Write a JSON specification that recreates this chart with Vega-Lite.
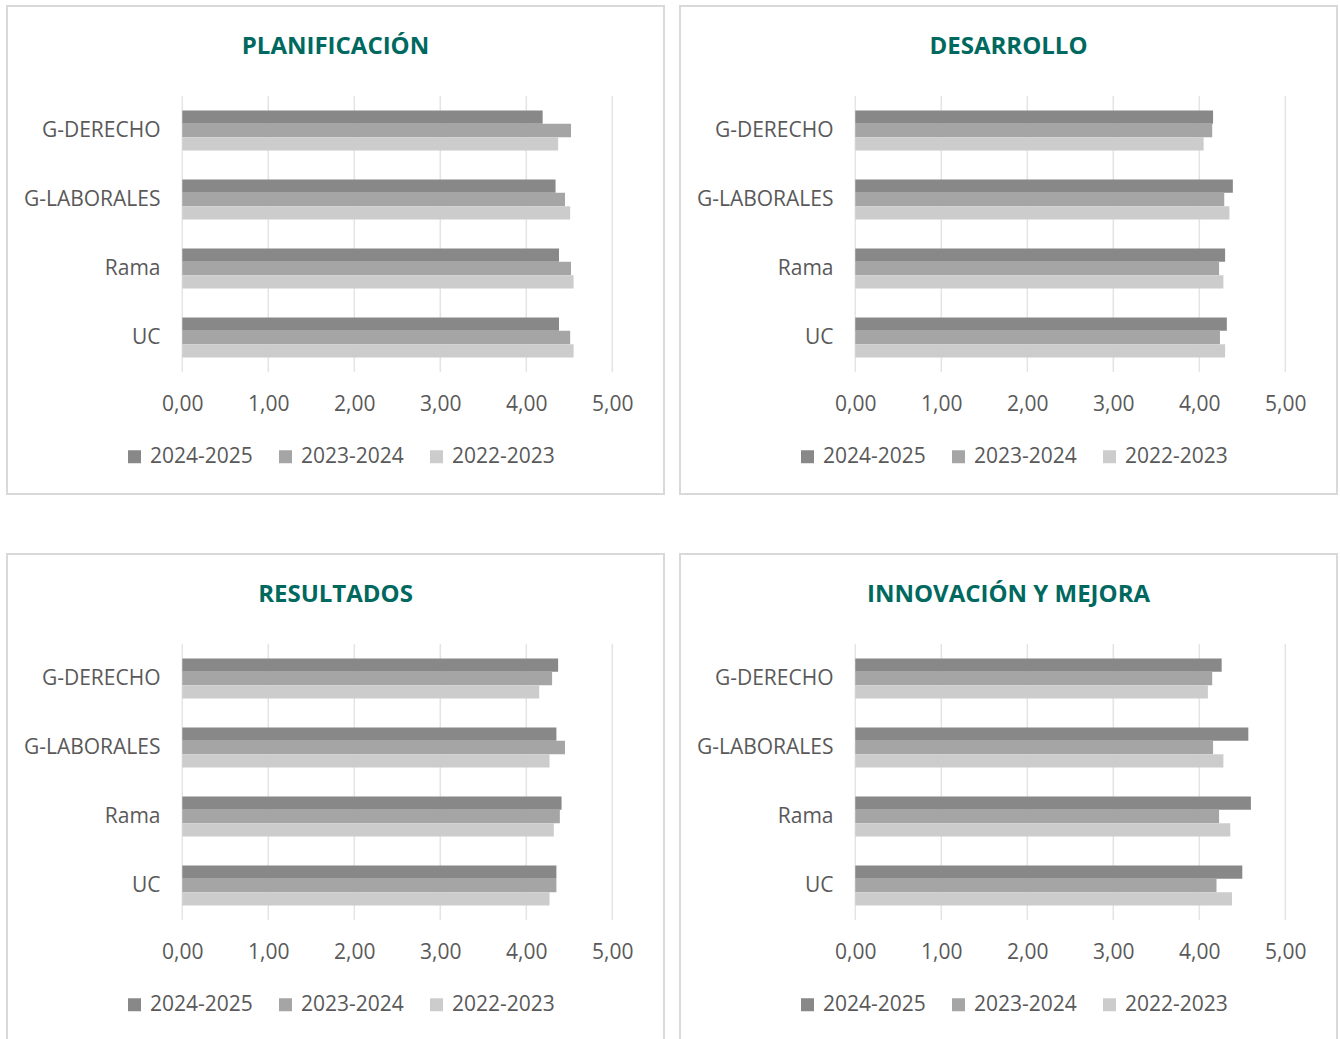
{
  "$schema": "https://vega.github.io/schema/vega-lite/v6.json",
  "padding": {"left": 6, "top": 5, "right": 0, "bottom": 0},
  "autosize": {"type": "pad"},
  "background": "white",
  "datasets": {
    "grid": [
      {"cat": "G-DERECHO", "value": 0}, {"cat": "G-DERECHO", "value": 1}, {"cat": "G-DERECHO", "value": 2}, {"cat": "G-DERECHO", "value": 3}, {"cat": "G-DERECHO", "value": 4}, {"cat": "G-DERECHO", "value": 5},
      {"cat": "G-LABORALES", "value": 0}, {"cat": "G-LABORALES", "value": 1}, {"cat": "G-LABORALES", "value": 2}, {"cat": "G-LABORALES", "value": 3}, {"cat": "G-LABORALES", "value": 4}, {"cat": "G-LABORALES", "value": 5},
      {"cat": "Rama", "value": 0}, {"cat": "Rama", "value": 1}, {"cat": "Rama", "value": 2}, {"cat": "Rama", "value": 3}, {"cat": "Rama", "value": 4}, {"cat": "Rama", "value": 5},
      {"cat": "UC", "value": 0}, {"cat": "UC", "value": 1}, {"cat": "UC", "value": 2}, {"cat": "UC", "value": 3}, {"cat": "UC", "value": 4}, {"cat": "UC", "value": 5}
    ],
    "d": [
      {"panel": "PLANIFICACIÓN", "cat": "G-DERECHO", "year": "2024-2025", "value": 4.19},
      {"panel": "PLANIFICACIÓN", "cat": "G-DERECHO", "year": "2023-2024", "value": 4.52},
      {"panel": "PLANIFICACIÓN", "cat": "G-DERECHO", "year": "2022-2023", "value": 4.37},
      {"panel": "PLANIFICACIÓN", "cat": "G-LABORALES", "year": "2024-2025", "value": 4.34},
      {"panel": "PLANIFICACIÓN", "cat": "G-LABORALES", "year": "2023-2024", "value": 4.45},
      {"panel": "PLANIFICACIÓN", "cat": "G-LABORALES", "year": "2022-2023", "value": 4.51},
      {"panel": "PLANIFICACIÓN", "cat": "Rama", "year": "2024-2025", "value": 4.38},
      {"panel": "PLANIFICACIÓN", "cat": "Rama", "year": "2023-2024", "value": 4.52},
      {"panel": "PLANIFICACIÓN", "cat": "Rama", "year": "2022-2023", "value": 4.55},
      {"panel": "PLANIFICACIÓN", "cat": "UC", "year": "2024-2025", "value": 4.38},
      {"panel": "PLANIFICACIÓN", "cat": "UC", "year": "2023-2024", "value": 4.51},
      {"panel": "PLANIFICACIÓN", "cat": "UC", "year": "2022-2023", "value": 4.55},
      {"panel": "DESARROLLO", "cat": "G-DERECHO", "year": "2024-2025", "value": 4.16},
      {"panel": "DESARROLLO", "cat": "G-DERECHO", "year": "2023-2024", "value": 4.15},
      {"panel": "DESARROLLO", "cat": "G-DERECHO", "year": "2022-2023", "value": 4.05},
      {"panel": "DESARROLLO", "cat": "G-LABORALES", "year": "2024-2025", "value": 4.39},
      {"panel": "DESARROLLO", "cat": "G-LABORALES", "year": "2023-2024", "value": 4.29},
      {"panel": "DESARROLLO", "cat": "G-LABORALES", "year": "2022-2023", "value": 4.35},
      {"panel": "DESARROLLO", "cat": "Rama", "year": "2024-2025", "value": 4.30},
      {"panel": "DESARROLLO", "cat": "Rama", "year": "2023-2024", "value": 4.23},
      {"panel": "DESARROLLO", "cat": "Rama", "year": "2022-2023", "value": 4.28},
      {"panel": "DESARROLLO", "cat": "UC", "year": "2024-2025", "value": 4.32},
      {"panel": "DESARROLLO", "cat": "UC", "year": "2023-2024", "value": 4.24},
      {"panel": "DESARROLLO", "cat": "UC", "year": "2022-2023", "value": 4.30},
      {"panel": "RESULTADOS", "cat": "G-DERECHO", "year": "2024-2025", "value": 4.37},
      {"panel": "RESULTADOS", "cat": "G-DERECHO", "year": "2023-2024", "value": 4.30},
      {"panel": "RESULTADOS", "cat": "G-DERECHO", "year": "2022-2023", "value": 4.15},
      {"panel": "RESULTADOS", "cat": "G-LABORALES", "year": "2024-2025", "value": 4.35},
      {"panel": "RESULTADOS", "cat": "G-LABORALES", "year": "2023-2024", "value": 4.45},
      {"panel": "RESULTADOS", "cat": "G-LABORALES", "year": "2022-2023", "value": 4.27},
      {"panel": "RESULTADOS", "cat": "Rama", "year": "2024-2025", "value": 4.41},
      {"panel": "RESULTADOS", "cat": "Rama", "year": "2023-2024", "value": 4.39},
      {"panel": "RESULTADOS", "cat": "Rama", "year": "2022-2023", "value": 4.32},
      {"panel": "RESULTADOS", "cat": "UC", "year": "2024-2025", "value": 4.35},
      {"panel": "RESULTADOS", "cat": "UC", "year": "2023-2024", "value": 4.35},
      {"panel": "RESULTADOS", "cat": "UC", "year": "2022-2023", "value": 4.27},
      {"panel": "INNOVACIÓN Y MEJORA", "cat": "G-DERECHO", "year": "2024-2025", "value": 4.26},
      {"panel": "INNOVACIÓN Y MEJORA", "cat": "G-DERECHO", "year": "2023-2024", "value": 4.15},
      {"panel": "INNOVACIÓN Y MEJORA", "cat": "G-DERECHO", "year": "2022-2023", "value": 4.10},
      {"panel": "INNOVACIÓN Y MEJORA", "cat": "G-LABORALES", "year": "2024-2025", "value": 4.57},
      {"panel": "INNOVACIÓN Y MEJORA", "cat": "G-LABORALES", "year": "2023-2024", "value": 4.16},
      {"panel": "INNOVACIÓN Y MEJORA", "cat": "G-LABORALES", "year": "2022-2023", "value": 4.28},
      {"panel": "INNOVACIÓN Y MEJORA", "cat": "Rama", "year": "2024-2025", "value": 4.60},
      {"panel": "INNOVACIÓN Y MEJORA", "cat": "Rama", "year": "2023-2024", "value": 4.23},
      {"panel": "INNOVACIÓN Y MEJORA", "cat": "Rama", "year": "2022-2023", "value": 4.36},
      {"panel": "INNOVACIÓN Y MEJORA", "cat": "UC", "year": "2024-2025", "value": 4.50},
      {"panel": "INNOVACIÓN Y MEJORA", "cat": "UC", "year": "2023-2024", "value": 4.20},
      {"panel": "INNOVACIÓN Y MEJORA", "cat": "UC", "year": "2022-2023", "value": 4.38}
    ]
  },
  "columns": 2,
  "spacing": {"row": 58, "column": 14},
  "concat": [
    {
      "width": 657, "height": 488,
      "title": {"text": "PLANIFICACIÓN"},
      "encoding": {
        "x": {"field": "value", "type": "quantitative", "scale": {"domain": [-2.038, 5.601], "nice": false, "zero": false},
              "axis": {"values": [0, 1, 2, 3, 4, 5], "labelExpr": "replace(format(datum.value, '.2f'), '.', ',')", "offset": -101}},
        "y": {"field": "cat", "type": "nominal", "scale": {"domain": ["G-DERECHO", "G-LABORALES", "Rama", "UC"], "range": [90, 366], "paddingInner": 0.42, "paddingOuter": 0.21},
              "axis": {"offset": -153}}
      },
      "layer": [
        {"data": {"name": "grid"}, "mark": {"type": "tick", "size": 69, "thickness": 1.5, "color": "#d9d9d9"}},
        {"data": {"name": "d"}, "transform": [{"filter": "datum.panel === 'PLANIFICACIÓN'"}], "mark": {"type": "bar"},
         "encoding": {
           "yOffset": {"field": "year", "type": "nominal", "sort": ["2024-2025", "2023-2024", "2022-2023"], "scale": {"paddingInner": 0, "paddingOuter": 0}},
           "color": {"field": "year", "type": "nominal", "scale": {"domain": ["2024-2025", "2023-2024", "2022-2023"], "range": ["#888888", "#a5a5a5", "#cccccc"]}}
         }}
      ]
    },
    {
      "width": 657, "height": 488,
      "title": {"text": "DESARROLLO"},
      "encoding": {
        "x": {"field": "value", "type": "quantitative", "scale": {"domain": [-2.038, 5.601], "nice": false, "zero": false},
              "axis": {"values": [0, 1, 2, 3, 4, 5], "labelExpr": "replace(format(datum.value, '.2f'), '.', ',')", "offset": -101}},
        "y": {"field": "cat", "type": "nominal", "scale": {"domain": ["G-DERECHO", "G-LABORALES", "Rama", "UC"], "range": [90, 366], "paddingInner": 0.42, "paddingOuter": 0.21},
              "axis": {"offset": -153}}
      },
      "layer": [
        {"data": {"name": "grid"}, "mark": {"type": "tick", "size": 69, "thickness": 1.5, "color": "#d9d9d9"}},
        {"data": {"name": "d"}, "transform": [{"filter": "datum.panel === 'DESARROLLO'"}], "mark": {"type": "bar"},
         "encoding": {
           "yOffset": {"field": "year", "type": "nominal", "sort": ["2024-2025", "2023-2024", "2022-2023"], "scale": {"paddingInner": 0, "paddingOuter": 0}},
           "color": {"field": "year", "type": "nominal", "scale": {"domain": ["2024-2025", "2023-2024", "2022-2023"], "range": ["#888888", "#a5a5a5", "#cccccc"]}}
         }}
      ]
    },
    {
      "width": 657, "height": 488,
      "title": {"text": "RESULTADOS"},
      "encoding": {
        "x": {"field": "value", "type": "quantitative", "scale": {"domain": [-2.038, 5.601], "nice": false, "zero": false},
              "axis": {"values": [0, 1, 2, 3, 4, 5], "labelExpr": "replace(format(datum.value, '.2f'), '.', ',')", "offset": -101}},
        "y": {"field": "cat", "type": "nominal", "scale": {"domain": ["G-DERECHO", "G-LABORALES", "Rama", "UC"], "range": [90, 366], "paddingInner": 0.42, "paddingOuter": 0.21},
              "axis": {"offset": -153}}
      },
      "layer": [
        {"data": {"name": "grid"}, "mark": {"type": "tick", "size": 69, "thickness": 1.5, "color": "#d9d9d9"}},
        {"data": {"name": "d"}, "transform": [{"filter": "datum.panel === 'RESULTADOS'"}], "mark": {"type": "bar"},
         "encoding": {
           "yOffset": {"field": "year", "type": "nominal", "sort": ["2024-2025", "2023-2024", "2022-2023"], "scale": {"paddingInner": 0, "paddingOuter": 0}},
           "color": {"field": "year", "type": "nominal", "scale": {"domain": ["2024-2025", "2023-2024", "2022-2023"], "range": ["#888888", "#a5a5a5", "#cccccc"]}}
         }}
      ]
    },
    {
      "width": 657, "height": 488,
      "title": {"text": "INNOVACIÓN Y MEJORA"},
      "encoding": {
        "x": {"field": "value", "type": "quantitative", "scale": {"domain": [-2.038, 5.601], "nice": false, "zero": false},
              "axis": {"values": [0, 1, 2, 3, 4, 5], "labelExpr": "replace(format(datum.value, '.2f'), '.', ',')", "offset": -101}},
        "y": {"field": "cat", "type": "nominal", "scale": {"domain": ["G-DERECHO", "G-LABORALES", "Rama", "UC"], "range": [90, 366], "paddingInner": 0.42, "paddingOuter": 0.21},
              "axis": {"offset": -153}}
      },
      "layer": [
        {"data": {"name": "grid"}, "mark": {"type": "tick", "size": 69, "thickness": 1.5, "color": "#d9d9d9"}},
        {"data": {"name": "d"}, "transform": [{"filter": "datum.panel === 'INNOVACIÓN Y MEJORA'"}], "mark": {"type": "bar"},
         "encoding": {
           "yOffset": {"field": "year", "type": "nominal", "sort": ["2024-2025", "2023-2024", "2022-2023"], "scale": {"paddingInner": 0, "paddingOuter": 0}},
           "color": {"field": "year", "type": "nominal", "scale": {"domain": ["2024-2025", "2023-2024", "2022-2023"], "range": ["#888888", "#a5a5a5", "#cccccc"]}}
         }}
      ]
    }
  ],
  "resolve": {"scale": {"color": "independent"}, "legend": {"color": "independent"}},
  "config": {
    "font": "Open Sans",
    "view": {"stroke": "#d9d9d9", "strokeWidth": 2},
    "title": {"fontSize": 24, "fontWeight": "bold", "color": "#00695f", "anchor": "middle", "offset": -53, "font": "Open Sans"},
    "axisX": {"grid": false, "domain": false, "ticks": false, "title": null, "labelFontSize": 21, "labelColor": "#595959", "labelPadding": 0, "labelFont": "Open Sans"},
    "axisY": {"grid": false, "domain": false, "ticks": false, "title": null, "labelFontSize": 21, "labelColor": "#595959", "labelPadding": 0, "labelFont": "Open Sans"},
    "legend": {"orient": "none", "direction": "horizontal", "legendX": 117, "legendY": 440, "title": null, "symbolType": "square", "symbolSize": 169, "symbolStrokeWidth": 0, "labelFontSize": 21, "labelColor": "#595959", "labelFont": "Open Sans", "columnPadding": 22, "labelOffset": 5}
  }
}
